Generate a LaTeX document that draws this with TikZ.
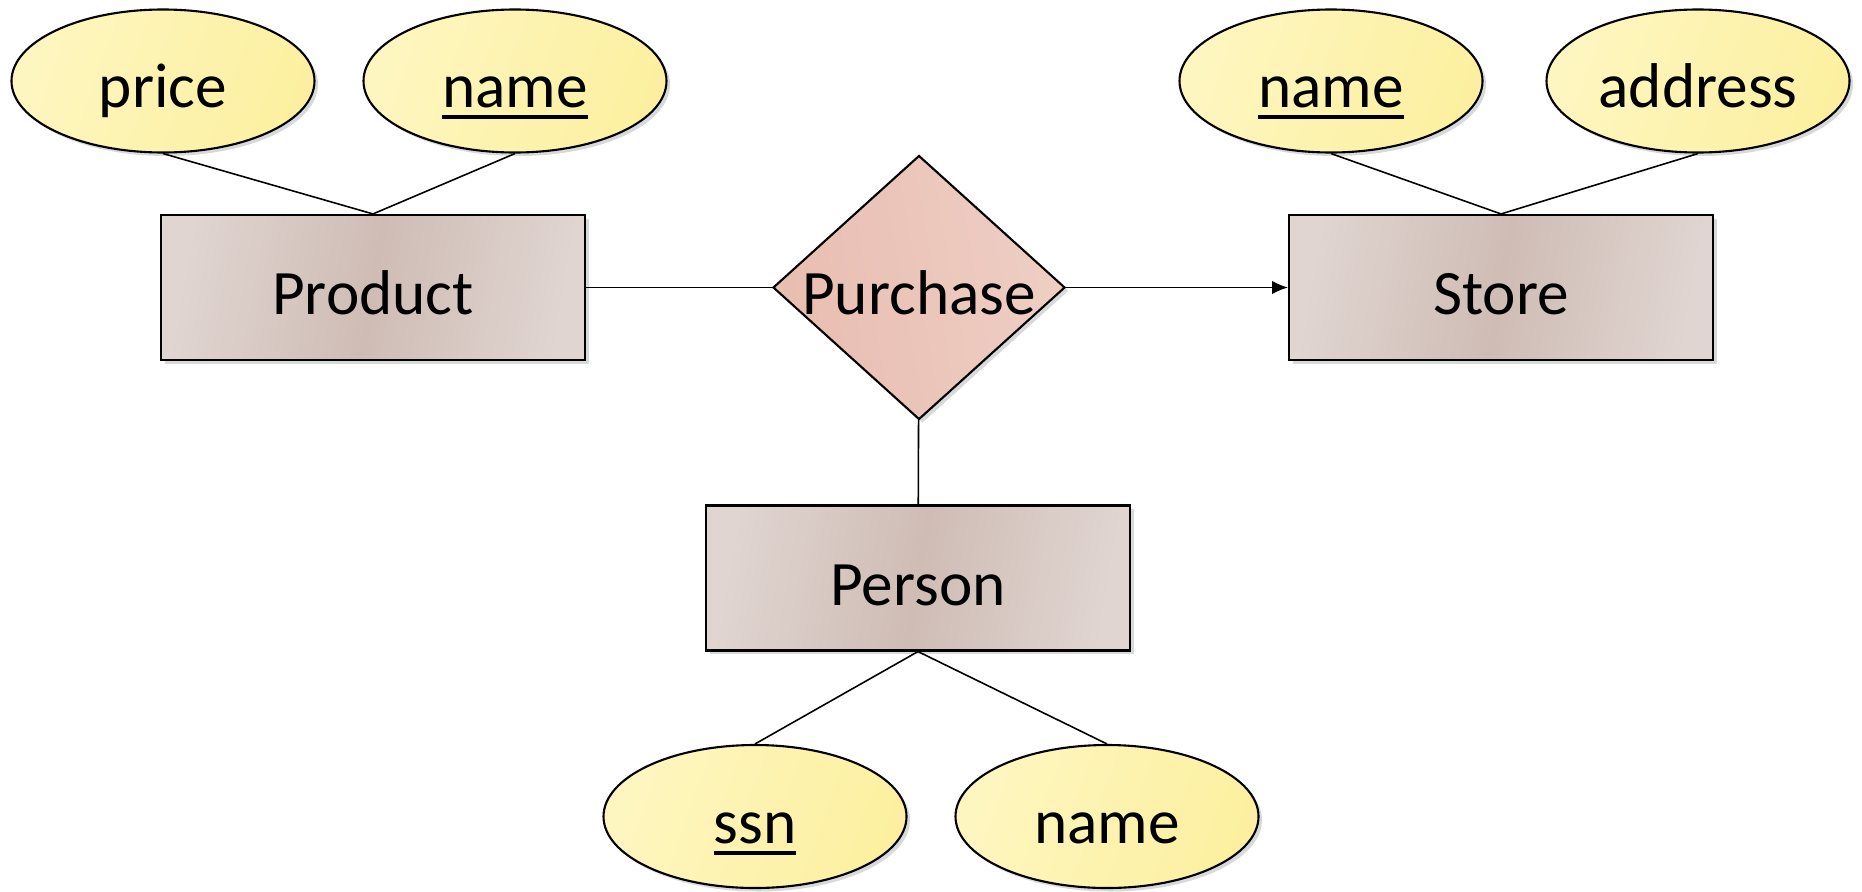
\documentclass[tikz,border=0pt]{standalone}
\usepackage{fontspec}
\setmainfont{Carlito}
\usepackage{pgf,tikz}
\usetikzlibrary{shapes.geometric}
\usetikzlibrary{arrows,arrows.meta}
\usetikzlibrary{shadows}
\usepackage{xcolor}
\definecolor{entlight}{HTML}{E0D5D1}
\definecolor{entdark}{HTML}{CFBCB5}
\definecolor{attrlight}{HTML}{FEF6C0}
\definecolor{attrdark}{HTML}{FCF0A0}
\definecolor{rellight}{HTML}{EECEC4}
\definecolor{reldark}{HTML}{E9BDB1}
\newcommand{\keyattr}[1]{\vtop{\hbox{#1}\kern2pt\hrule height 1.1pt}}

\begin{document}
\begin{tikzpicture}[>={Latex[length=4.5pt,width=3.8pt]},line width=0.45pt,
		                    font=\fontsize{18}{22}\selectfont,
		                    every node/.style={text height=0.54cm,text depth=0pt},
		                    entity node/.style={rectangle,draw,line width=0.6pt,minimum width=4.24cm,minimum height=1.45cm,
		                      left color=entlight,right color=entlight,middle color=entdark,shading angle=80,
		                      drop shadow={opacity=0.3,shadow xshift=0.035cm,shadow yshift=-0.035cm}},
		                    attr node/.style={ellipse,draw,line width=0.6pt,inner sep=0pt,minimum width=3.03cm,minimum height=1.43cm,
		                      left color=attrlight,right color=attrdark,shading angle=70,
		                      drop shadow={opacity=0.3,shadow xshift=0.035cm,shadow yshift=-0.035cm}},
		                    rel node/.style={diamond,draw,line width=0.6pt,inner sep=0pt,minimum width=2.92cm,minimum height=2.64cm,
		                      left color=reldark,right color=rellight,shading angle=100,
		                      drop shadow={opacity=0.3,shadow xshift=0.035cm,shadow yshift=-0.035cm}}]
			  \useasboundingbox (0,0) rectangle (18.62,8.91);
			% Nodes
			  \node[rel node,label=center:Purchase] (Purchase) at (9.19,6.035) {};
			  \node[entity node] (Product) at (3.73,6.035) {Product};
			  \node[entity node] (Store) at (15.01,6.035) {Store};
			  \node[entity node] (Person) at (9.18,3.13) {Person};
			  \node[attr node] (price) at (1.63,8.10) {price};
			  \node[attr node] (pname) at (5.15,8.10) {\keyattr{name}};
			  \node[attr node] (sname) at (13.31,8.10) {\keyattr{name}};
			  \node[attr node] (address) at (16.98,8.10) {address};
			  \node[attr node] (ssn) at (7.55,0.745) {\keyattr{ssn}};
			  \node[attr node] (name) at (11.07,0.745) {name};

			% Edges
			  \draw (price.south) -- (Product.north) -- (pname.south);
			  \draw (sname.south) -- (Store.north) -- (address.south);
			  \draw (ssn.north) -- (Person.south) -- (name.north);
			  \draw (Product) -- (Purchase);
			  \draw[->] (Purchase) -- (Store);
			  \draw (Purchase) -- (Person);
			\end{tikzpicture}
\end{document}
